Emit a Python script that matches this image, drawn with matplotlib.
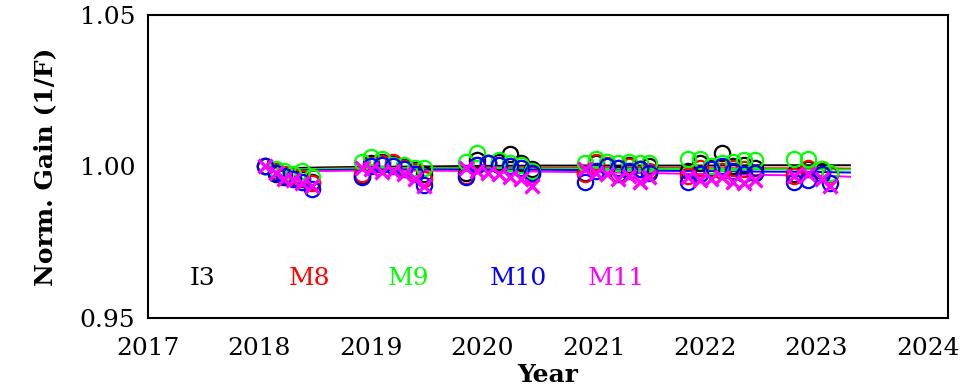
import matplotlib
matplotlib.use("Agg")
import matplotlib.pyplot as plt

# ---- data ----
# measurement epochs (decimal year), one list per yearly campaign joined together
t_obs = [2018.05, 2018.15, 2018.22, 2018.30, 2018.38, 2018.47,
         2018.92, 2019.00, 2019.10, 2019.20, 2019.30, 2019.40, 2019.48,
         2019.85, 2019.95, 2020.05, 2020.15, 2020.25, 2020.35, 2020.45,
         2020.92, 2021.02, 2021.12, 2021.22, 2021.32, 2021.42, 2021.50,
         2021.85, 2021.95, 2022.05, 2022.15, 2022.25, 2022.35, 2022.45,
         2022.80, 2022.92, 2023.05, 2023.12]

i3 = [1.0000, 0.9975, 0.9965, 0.9962, 0.9960, 0.9950,
      0.9970, 1.0010, 1.0015, 1.0008, 1.0000, 0.9990, 0.9975,
      0.9980, 1.0020, 1.0010, 1.0015, 1.0040, 1.0010, 0.9990,
      0.9980, 1.0010, 1.0000, 0.9975, 1.0005, 0.9990, 1.0000,
      0.9985, 1.0010, 0.9995, 1.0045, 1.0000, 1.0005, 0.9995,
      0.9975, 0.9990, 0.9985, 0.9975]
m8 = [1.0000, 0.9985, 0.9975, 0.9968, 0.9962, 0.9945,
      0.9975, 1.0005, 1.0010, 1.0015, 0.9995, 0.9985, 0.9960,
      0.9970, 1.0005, 1.0010, 1.0005, 1.0000, 0.9995, 0.9975,
      0.9975, 1.0015, 1.0005, 0.9995, 1.0000, 0.9990, 0.9985,
      0.9970, 0.9995, 1.0000, 0.9985, 0.9995, 0.9990, 0.9980,
      0.9970, 0.9995, 0.9990, 0.9975]
m9 = [1.0000, 0.9990, 0.9985, 0.9975, 0.9985, 0.9965,
      1.0015, 1.0030, 1.0025, 1.0005, 1.0005, 0.9995, 0.9995,
      1.0015, 1.0045, 1.0010, 1.0020, 1.0010, 1.0005, 0.9985,
      1.0010, 1.0025, 1.0015, 1.0010, 1.0015, 1.0010, 1.0010,
      1.0025, 1.0025, 1.0000, 1.0010, 1.0015, 1.0020, 1.0020,
      1.0025, 1.0025, 0.9990, 0.9980]
m10 = [1.0000, 0.9980, 0.9970, 0.9960, 0.9950, 0.9925,
       0.9965, 1.0000, 1.0005, 1.0000, 0.9990, 0.9975, 0.9940,
       0.9965, 1.0005, 1.0010, 1.0005, 1.0000, 0.9995, 0.9980,
       0.9950, 0.9985, 1.0000, 0.9995, 0.9985, 0.9990, 0.9980,
       0.9950, 0.9975, 0.9990, 1.0000, 0.9985, 0.9975, 0.9980,
       0.9950, 0.9955, 0.9975, 0.9945]
m11 = [1.0000, 0.9978, 0.9960, 0.9955, 0.9945, 0.9935,
       0.9995, 0.9990, 0.9982, 0.9985, 0.9975, 0.9960, 0.9935,
       0.9995, 0.9985, 0.9980, 0.9975, 0.9965, 0.9960, 0.9935,
       0.9990, 0.9980, 0.9975, 0.9960, 0.9970, 0.9950, 0.9965,
       0.9965, 0.9955, 0.9960, 0.9965, 0.9950, 0.9945, 0.9955,
       0.9970, 0.9975, 0.9960, 0.9935]

# trend lines
t_fit = [2018.05, 2018.30, 2018.60, 2019.00, 2019.50, 2020.00, 2020.50,
         2021.00, 2021.50, 2022.00, 2022.50, 2023.00, 2023.30]
i3_fit = [1.0000, 0.9995, 0.9997, 0.9999, 1.0000, 1.0002, 1.0003,
          1.0003, 1.0003, 1.0003, 1.0004, 1.0004, 1.0004]
m8_fit = [1.0000, 0.9990, 0.9993, 0.9995, 0.9995, 0.9996, 0.9996,
          0.9996, 0.9995, 0.9994, 0.9994, 0.9994, 0.9993]
m9_fit = [1.0000, 0.9990, 0.9992, 0.9994, 0.9994, 0.9994, 0.9993,
          0.9993, 0.9992, 0.9992, 0.9991, 0.9990, 0.9990]
m10_fit = [1.0000, 0.9987, 0.9988, 0.9990, 0.9990, 0.9990, 0.9989,
           0.9988, 0.9986, 0.9985, 0.9983, 0.9982, 0.9980]
m11_fit = [1.0000, 0.9985, 0.9985, 0.9987, 0.9986, 0.9985, 0.9983,
           0.9981, 0.9978, 0.9975, 0.9972, 0.9970, 0.9966]

names = ["I3", "M8", "M9", "M10", "M11"]
colours = ["black", "#ff0000", "#00ff00", "#0000ff", "#ff00ff"]
label_x = [2017.49, 2018.45, 2019.34, 2020.32, 2021.20]
label_y = 0.9630
year_ticks = [2017, 2018, 2019, 2020, 2021, 2022, 2023, 2024]

FontFam = ["DejaVu Serif"]
FontSize = 18

fig = plt.figure(figsize=(9.71, 3.92), dpi=100)
ax = fig.add_axes([0.1524, 0.189, 0.8239, 0.7727])

series = [i3, m8, m9, m10, m11]
fits = [i3_fit, m8_fit, m9_fit, m10_fit, m11_fit]
for k in range(len(names)):
    ax.plot(t_fit, fits[k], color=colours[k], lw=1.4, zorder=2)
for k in range(len(names)):
    if names[k] == "M11":
        ax.plot(t_obs, series[k], ls="none", marker="x", ms=10, mew=2.4,
                color=colours[k], zorder=3)
    else:
        ax.plot(t_obs, series[k], ls="none", marker="o", ms=11, mew=1.6,
                mfc="none", mec=colours[k], zorder=3)

# small error bars on the first epoch
ax.errorbar([2018.08], [1.0005], yerr=[0.0012], fmt="none", ecolor="black", lw=1.2)
ax.errorbar([2018.21], [1.0003], yerr=[0.0010], fmt="none", ecolor="#ff0000", lw=1.2)

for k in range(len(names)):
    ax.text(label_x[k], label_y, names[k], color=colours[k], fontsize=18,
            family=FontFam, ha="center", va="center")

ax.set_xlim(2017, 2024.18)
ax.set_ylim(0.95, 1.05)
ax.set_xticks(year_ticks)
ax.set_xticklabels([str(y) for y in year_ticks], family=FontFam, fontsize=FontSize)
ax.set_yticks([0.95, 1.00, 1.05])
ax.set_yticklabels(["0.95", "1.00", "1.05"], family=FontFam, fontsize=FontSize)
ax.tick_params(length=0)
ax.tick_params(axis="x", pad=14)
ax.tick_params(axis="y", pad=9)
for s in ax.spines.values():
    s.set_linewidth(1.5)
ax.set_xlabel("Year", family=FontFam, fontsize=FontSize, fontweight="bold", labelpad=2)
ax.set_ylabel("Norm. Gain (1/F)", family=FontFam, fontsize=FontSize,
              fontweight="bold", labelpad=16)

fig.savefig("out.png", dpi=100)
